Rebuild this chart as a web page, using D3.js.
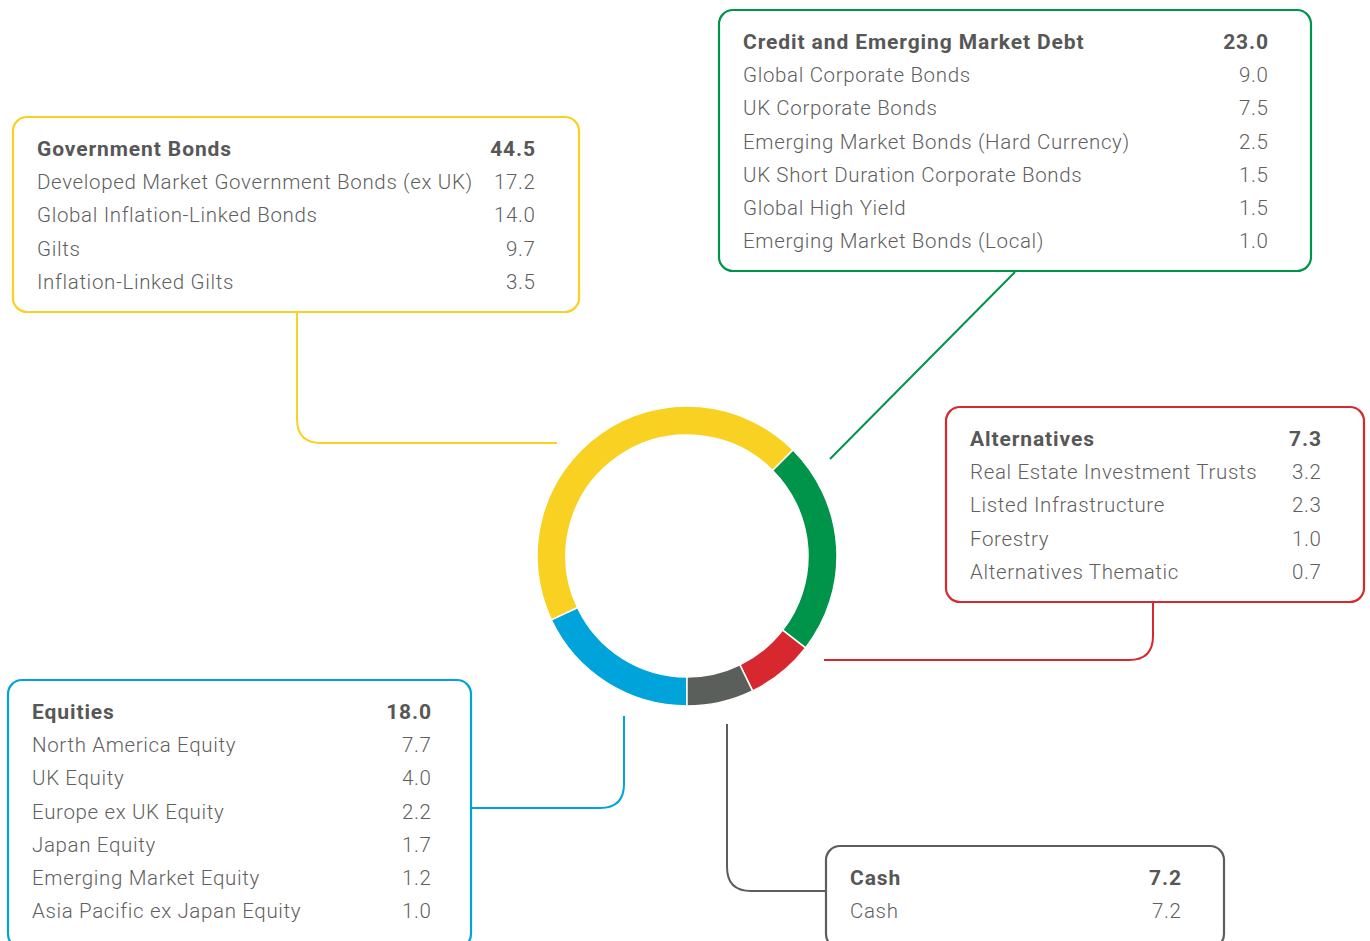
<!DOCTYPE html>
<html>
<head>
<meta charset="utf-8">
<script src="https://cdn.jsdelivr.net/npm/d3@7"></script>
<style>
  html, body { margin: 0; padding: 0; background: #fff; }
  svg { display: block; }
  .head { font-family: Roboto, sans-serif; font-weight: 700; fill: #575757; letter-spacing: 0.9px; }
  .row { font-family: Roboto, sans-serif; font-weight: 300; fill: #5f5f5f; letter-spacing: 0.65px; }
</style>
</head>
<body>
<div class="chart"></div>
<script>
let w = 1370, h = 941;

// donut order, clockwise from the bottom
const assetClasses = ['Equities', 'Government Bonds', 'Credit and Emerging Market Debt', 'Alternatives', 'Cash'];
const assetValues = [18.0, 44.5, 23.0, 7.3, 7.2];
const assetColors = ['#00a3da', '#f9d122', '#00934a', '#d7282f', '#5a5f5c'];

const govLabels = ['Developed Market Government Bonds (ex UK)', 'Global Inflation-Linked Bonds', 'Gilts', 'Inflation-Linked Gilts'];
const govValues = [17.2, 14.0, 9.7, 3.5];

const creditLabels = ['Global Corporate Bonds', 'UK Corporate Bonds', 'Emerging Market Bonds (Hard Currency)', 'UK Short Duration Corporate Bonds', 'Global High Yield', 'Emerging Market Bonds (Local)'];
const creditValues = [9.0, 7.5, 2.5, 1.5, 1.5, 1.0];

const altLabels = ['Real Estate Investment Trusts', 'Listed Infrastructure', 'Forestry', 'Alternatives Thematic'];
const altValues = [3.2, 2.3, 1.0, 0.7];

const eqLabels = ['North America Equity', 'UK Equity', 'Europe ex UK Equity', 'Japan Equity', 'Emerging Market Equity', 'Asia Pacific ex Japan Equity'];
const eqValues = [7.7, 4.0, 2.2, 1.7, 1.2, 1.0];

const cashLabels = ['Cash'];
const cashValues = [7.2];

let svg = d3.select('.chart').append('svg').attr('width', w).attr('height', h);
let fmt = d3.format('.1f');

/* ==== DONUT ===== */

let cx = 687, cy = 556;
let pie = d3.pie().sort(null).startAngle(Math.PI).endAngle(3 * Math.PI);
let arc = d3.arc().innerRadius(121).outerRadius(150);

svg.append('g')
    .attr('transform', 'translate(' + cx + ',' + cy + ')')
    .selectAll('path')
    .data(pie(assetValues))
    .enter()
    .append('path')
    .attr('d', arc)
    .attr('fill', function (d, i) { return assetColors[i]; })
    .attr('stroke', '#fff')
    .attr('stroke-width', 1.5);

/* ==== CONNECTORS ===== */

function color(name) { return assetColors[assetClasses.indexOf(name)]; }

let connectors = [
    { name: 'Government Bonds', d: 'M297,313 V419 Q297,443 321,443 H557' },
    { name: 'Credit and Emerging Market Debt', d: 'M1015,272 L830,459' },
    { name: 'Alternatives', d: 'M1153,603 V636 Q1153,660 1129,660 H824' },
    { name: 'Equities', d: 'M624,716 V784 Q624,808 600,808 H472' },
    { name: 'Cash', d: 'M727,724 V867 Q727,891 751,891 H826' }
];

svg.selectAll('.connector')
    .data(connectors)
    .enter()
    .append('path')
    .attr('class', 'connector')
    .attr('d', function (d) { return d.d; })
    .attr('fill', 'none')
    .attr('stroke', function (d) { return color(d.name); })
    .attr('stroke-width', 2);

/* ==== BOXES ===== */

let rowGap = 33.2;

function drawBox(name, labels, values, box) {
    let g = svg.append('g');
    let total = assetValues[assetClasses.indexOf(name)];

    g.append('rect')
        .attr('x', box.x)
        .attr('y', box.y)
        .attr('width', box.w)
        .attr('height', box.h)
        .attr('rx', 14)
        .attr('fill', '#fff')
        .attr('stroke', color(name))
        .attr('stroke-width', 2.2);

    // trailing letter-spacing would push end-anchored numbers left, so nudge them
    g.append('text')
        .attr('class', 'head')
        .attr('x', box.tx)
        .attr('y', box.ty)
        .attr('font-size', 21)
        .text(name);
    g.append('text')
        .attr('class', 'head')
        .attr('x', box.vx + 1)
        .attr('y', box.ty)
        .attr('text-anchor', 'end')
        .attr('font-size', 21)
        .text(fmt(total));

    labels.forEach(function (lab, i) {
        let y = box.ty + rowGap * (i + 1);
        g.append('text')
            .attr('class', 'row')
            .attr('x', box.tx)
            .attr('y', y)
            .attr('font-size', 20.5)
            .text(lab);
        g.append('text')
            .attr('class', 'row')
            .attr('x', box.vx + 0.6)
            .attr('y', y)
            .attr('text-anchor', 'end')
            .attr('font-size', 20.5)
            .text(fmt(values[i]));
    });
}

drawBox('Government Bonds', govLabels, govValues, { x: 13, y: 117, w: 566, h: 195, tx: 37, vx: 535, ty: 156 });
drawBox('Credit and Emerging Market Debt', creditLabels, creditValues, { x: 719, y: 10, w: 592, h: 261, tx: 743, vx: 1268, ty: 49 });
drawBox('Alternatives', altLabels, altValues, { x: 946, y: 407, w: 418, h: 195, tx: 970, vx: 1321, ty: 446 });
drawBox('Equities', eqLabels, eqValues, { x: 8, y: 680, w: 463, h: 268, tx: 32, vx: 431, ty: 719 });
drawBox('Cash', cashLabels, cashValues, { x: 826, y: 846, w: 398, h: 102, tx: 850, vx: 1181, ty: 885 });
</script>
</body>
</html>
